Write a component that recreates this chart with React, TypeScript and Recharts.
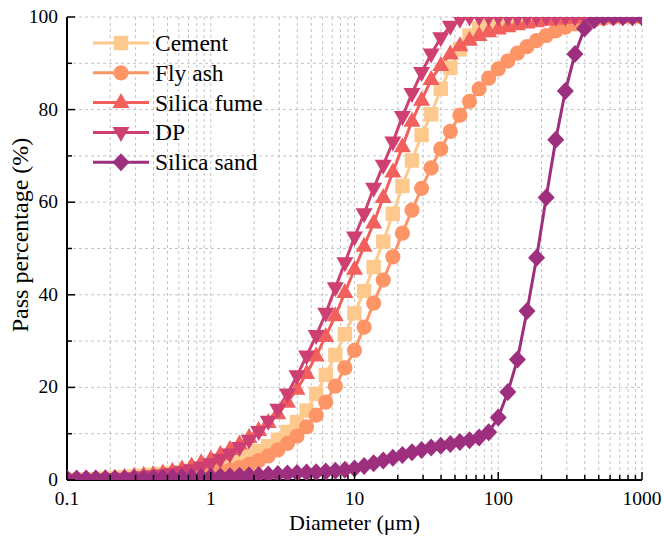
import React from 'react';
import { LineChart, Line, XAxis, YAxis, CartesianGrid, Legend } from 'recharts';

// particle diameters (µm), log spaced as exported by the analyser
const diameters = [
  0.1, 0.1166, 0.1359, 0.1585, 0.1848, 0.2154, 0.2512, 0.2929, 0.3415, 0.3981, 0.4642, 0.5412, 0.631, 0.7356, 0.8577,
  1, 1.166, 1.359, 1.585, 1.848, 2.154, 2.512, 2.929, 3.415, 3.981, 4.642, 5.412, 6.31, 7.356, 8.577,
  10, 11.66, 13.59, 15.85, 18.48, 21.54, 25.12, 29.29, 34.15, 39.81, 46.42, 54.12, 63.1, 73.56, 85.77,
  100, 116.6, 135.9, 158.5, 184.8, 215.4, 251.2, 292.9, 341.5, 398.1, 464.2, 541.2, 631, 735.6, 857.7,
  1000,
];

const cement = [
  0, 0, 0.1, 0.2, 0.3, 0.45, 0.6, 0.75, 0.9, 1.1,
  1.3, 1.5, 1.7, 2.0, 2.3, 2.7, 3.1, 3.7, 4.4, 5.2,
  6.2, 7.3, 8.7, 10.4, 12.5, 15, 18.6, 22.7, 27, 31.5,
  36, 40.8, 46, 51.5, 57.5, 63.5, 69, 74.5, 79, 84.5,
  89, 93, 96, 97.5, 98.5, 99.2, 99.6, 100, 100, 100,
  100, 100, 100, 100, 100, 100, 100, 100, 100, 100,
  100,
];

const flyAsh = [
  0, 0, 0, 0, 0, 0, 0, 0.1, 0.2, 0.3,
  0.4, 0.55, 0.7, 0.9, 1.1, 1.4, 1.7, 2.1, 2.7, 3.4,
  4.2, 5.2, 6.5, 7.9, 9.5, 11.5, 14, 16.8, 20.3, 24.2,
  28, 33, 38.2, 43.2, 48.2, 53.3, 58.3, 63, 67.4, 71.5,
  75.3, 78.8, 81.8, 84.5, 86.8, 88.8, 90.5, 92.2, 93.6, 94.9,
  96, 97, 97.8, 98.5, 99, 99.4, 99.7, 99.9, 100, 100,
  100,
];

const silicaFume = [
  0, 0, 0.1, 0.2, 0.3, 0.4, 0.6, 0.8, 1, 1.2,
  1.5, 1.9, 2.4, 3, 3.7, 4.5, 5.5, 6.6, 7.8, 9.2,
  10.7, 12.4, 14.3, 16.8, 19.6, 23, 26.8, 31, 35.5, 40.5,
  45.5, 50.5, 55.5, 61, 66.5, 72, 77.5, 82, 86.5, 89.5,
  92, 93.8, 95, 96, 96.8, 97.4, 97.9, 98.3, 98.7, 99,
  99.3, 99.5, 99.7, 99.8, 99.9, 100, 100, 100, 100, 100,
  100,
];

const dp = [
  0, 0, 0, 0.1, 0.2, 0.3, 0.4, 0.5, 0.7, 0.9,
  1.1, 1.4, 1.8, 2.2, 2.8, 3.5, 4.5, 5.6, 7, 8.6,
  10.5, 12.7, 15.3, 18.6, 22.5, 26.8, 31.2, 36, 41.5, 46.9,
  52.5, 57.5, 63, 68, 73, 78.5, 83.5, 88, 92, 95.5,
  98, 99.5, 100, 100, 100, 100, 100, 100, 100, 100,
  100, 100, 100, 100, 100, 100, 100, 100, 100, 100,
  100,
];

const silicaSand = [
  0.3, 0.3, 0.3, 0.3, 0.3, 0.35, 0.35, 0.4, 0.4, 0.45,
  0.5, 0.5, 0.55, 0.6, 0.65, 0.7, 0.75, 0.8, 0.9, 1.0,
  1.1, 1.2, 1.3, 1.4, 1.5, 1.6, 1.7, 1.85, 2.0, 2.2,
  2.5, 3.0, 3.6, 4.2, 4.8, 5.4, 6.0, 6.5, 7.0, 7.4,
  7.8, 8.2, 8.6, 9.2, 10.3, 13.5, 19, 26, 36.5, 48,
  61, 73.5, 84, 92, 97.5, 99.3, 100, 100, 100, 100,
  100,
];

const majorX = [0.1, 1, 10, 100, 1000];
const minorMult = [2, 3, 4, 5, 6, 7, 8, 9];
const xTicks = [...majorX, ...majorX.slice(0, 4).flatMap(d => minorMult.map(m => +(d * m).toPrecision(3)))];
const yTicks = [0, 10, 20, 30, 40, 50, 60, 70, 80, 90, 100];

const series = [
  { key: 'cement', name: 'Cement', color: '#FEC98D', shape: 'square', values: cement },
  { key: 'flyAsh', name: 'Fly ash', color: '#FD9567', shape: 'circle', values: flyAsh },
  { key: 'silicaFume', name: 'Silica fume', color: '#F1605D', shape: 'triangle', values: silicaFume },
  { key: 'dp', name: 'DP', color: '#CD4071', shape: 'down', values: dp },
  { key: 'silicaSand', name: 'Silica sand', color: '#9E2F7F', shape: 'diamond', values: silicaSand },
];

const rows = diameters.map((d, i) => {
  const row: Record<string, number> = { d };
  series.forEach(s => { row[s.key] = s.values[i]; });
  return row;
});

const FONT = '"Liberation Serif", "Times New Roman", serif';

function Marker({ shape, cx, cy, color }: { shape: string; cx: number; cy: number; color: string }) {
  if (shape === 'square') return <rect x={cx - 7.2} y={cy - 7.2} width={14.4} height={14.4} fill={color} />;
  if (shape === 'circle') return <circle cx={cx} cy={cy} r={7.6} fill={color} />;
  if (shape === 'triangle')
    return <polygon points={`${cx},${cy - 9.5} ${cx - 8.5},${cy + 5.5} ${cx + 8.5},${cy + 5.5}`} fill={color} />;
  if (shape === 'down')
    return <polygon points={`${cx},${cy + 9.5} ${cx - 8.5},${cy - 5.5} ${cx + 8.5},${cy - 5.5}`} fill={color} />;
  return <polygon points={`${cx},${cy - 9} ${cx + 8.5},${cy} ${cx},${cy + 9} ${cx - 8.5},${cy}`} fill={color} />;
}

const XTick = (props: any) => {
  const { x, y, payload } = props;
  const major = majorX.includes(payload.value);
  return (
    <g>
      <line x1={x} y1={y} x2={x} y2={y - (major ? 8 : 5)} stroke="#000" strokeWidth={1.5} />
      {major && (
        <text x={x} y={y + 25} textAnchor="middle" fontSize={19.5} fill="#000" fontFamily={FONT}>
          {payload.value}
        </text>
      )}
    </g>
  );
};

const YTick = (props: any) => {
  const { x, y, payload } = props;
  const major = payload.value % 20 === 0;
  return (
    <g>
      <line x1={x} y1={y} x2={x + (major ? 8 : 5)} y2={y} stroke="#000" strokeWidth={1.5} />
      {major && (
        <text x={x - 9} y={y + 6} textAnchor="end" fontSize={19.5} fill="#000" fontFamily={FONT}>
          {payload.value}
        </text>
      )}
    </g>
  );
};

const YTitle = () => (
  <text transform="translate(28,235) rotate(-90)" textAnchor="middle" fontSize={24} fill="#000" fontFamily={FONT}>
    Pass percentage (%)
  </text>
);

const LegendBox = () => (
  <svg width={220} height={160}>
    {series.map((s, i) => {
      const cy = 16 + i * 29.8;
      return (
        <g key={s.key}>
          <line x1={3} x2={59} y1={cy} y2={cy} stroke={s.color} strokeWidth={3} />
          <Marker shape={s.shape} cx={31} cy={cy} color={s.color} />
          <text x={65} y={cy + 8} fontSize={23.5} fill="#000" fontFamily={FONT}>
            {s.name}
          </text>
        </g>
      );
    })}
  </svg>
);

export default function App() {
  return (
    <div style={{ position: 'absolute', left: 0, top: 0, width: 664, height: 536, background: '#fff', fontFamily: FONT }}>
      <LineChart width={664} height={536} data={rows} margin={{ top: 17, right: 22, bottom: 0, left: 7 }}>
        <CartesianGrid stroke="#c4c4c4" strokeDasharray="3 3" />
        <XAxis
          dataKey="d"
          type="number"
          scale="log"
          domain={[0.1, 1000]}
          allowDataOverflow
          ticks={xTicks}
          interval={0}
          tick={<XTick />}
          tickLine={false}
          tickSize={0}
          tickMargin={0}
          height={56}
          axisLine={{ stroke: '#000', strokeWidth: 2 }}
          label={{ value: 'Diameter (μm)', position: 'insideBottom', offset: 6, fontSize: 22, fill: '#000' }}
        />
        <XAxis xAxisId="top" orientation="top" type="number" domain={[0, 1]} height={0} tick={false} tickLine={false} axisLine={{ stroke: '#000', strokeWidth: 1.5 }} />
        <YAxis
          type="number"
          domain={[0, 100]}
          allowDataOverflow
          ticks={yTicks}
          interval={0}
          width={60}
          tick={<YTick />}
          tickLine={false}
          tickSize={0}
          tickMargin={0}
          axisLine={{ stroke: '#000', strokeWidth: 2 }}
          label={{ content: () => <YTitle /> }}
        />
        <YAxis yAxisId="right" orientation="right" width={0} tick={false} tickLine={false} axisLine={{ stroke: '#000', strokeWidth: 1.5 }} />
        {series.map(s => (
          <Line
            key={s.key}
            dataKey={s.key}
            name={s.name}
            type="linear"
            stroke={s.color}
            strokeWidth={3}
            isAnimationActive={false}
            activeDot={false}
            dot={(p: any) =>
              p.cx == null || p.cy == null ? <g key={`${s.key}-${p.index}`} /> : (
                <Marker key={`${s.key}-${p.index}`} shape={s.shape} cx={p.cx} cy={p.cy} color={s.color} />
              )
            }
          />
        ))}
        <Legend
          layout="vertical"
          align="center"
          verticalAlign="middle"
          wrapperStyle={{ left: 90, top: 27, width: 220, height: 160 }}
          content={() => <LegendBox />}
        />
      </LineChart>
    </div>
  );
}
